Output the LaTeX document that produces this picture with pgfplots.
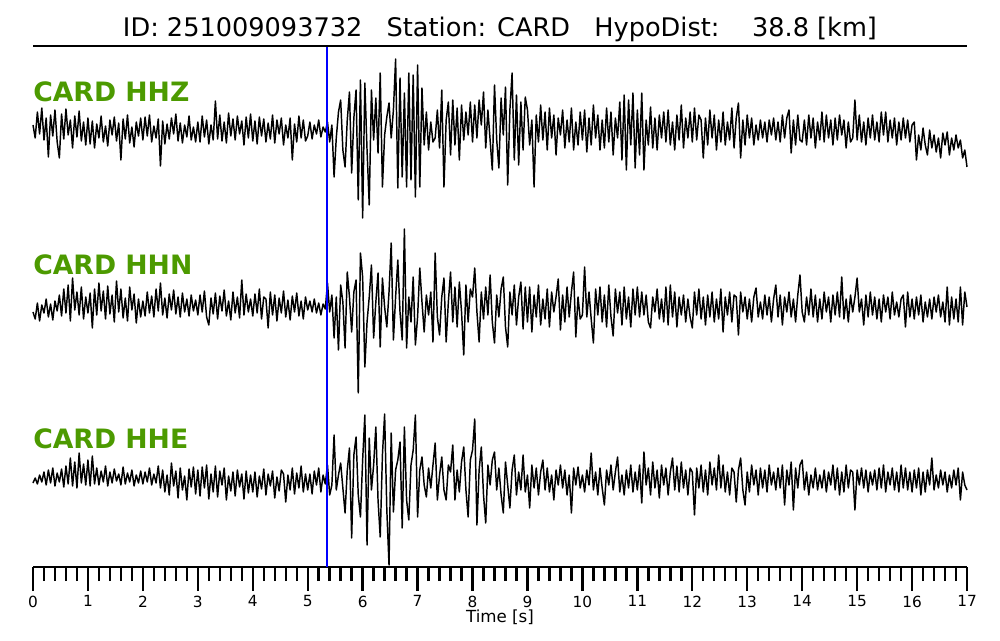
\documentclass[border=0pt]{standalone}
\usepackage{pgfplots}
\pgfplotsset{compat=1.18}
\usepackage{pgfplotstable}
\usepackage{fontspec}
\setmainfont{DejaVu Sans}
\definecolor{labgreen}{RGB}{76,154,0}

\pgfplotstableread{
t z n e
0.00 5 -5 -3
0.04 -8 -12 2
0.08 18 4 -4
0.12 -4 -14 5
0.16 22 2 -2
0.20 -10 -6 8
0.24 12 8 -5
0.28 -27 -10 10
0.32 15 3 -3
0.36 -6 -13 12
0.40 20 6 -6
0.44 -12 -4 7
0.48 -28 12 -2
0.52 16 -9 11
0.56 -9 18 -7
0.60 21 -6 14
0.64 -5 22 -4
0.68 10 -14 22
0.72 -18 29 -6
0.76 14 -3 18
0.80 -7 15 -8
0.84 19 -8 27
0.88 -11 20 -3
0.92 8 -12 16
0.96 -15 10 -5
1.00 12 -6 20
1.04 -14 14 -6
1.08 9 -21 24
1.12 -18 18 -4
1.16 6 -8 12
1.20 -8 24 -5
1.24 14 -4 9
1.28 -12 16 -2
1.32 4 -12 14
1.36 -16 21 -6
1.40 10 -7 8
1.44 -5 12 -3
1.48 13 -15 11
1.52 -11 26 -1
1.56 7 -5 6
1.60 -30 18 -5
1.64 11 -11 13
1.68 -9 9 -4
1.72 15 -14 7
1.76 -13 20 -2
1.80 3 -3 10
1.84 -17 13 -6
1.88 8 -16 5
1.92 -6 8 -3
1.96 12 -10 9
2.00 -10 6 -4
2.04 13 -9 8
2.08 -6 15 -2
2.12 15 -6 12
2.16 -12 11 -5
2.20 4 -10 6
2.24 -8 18 -3
2.28 11 -4 14
2.32 -36 24 -8
2.36 9 -8 10
2.40 -14 9 -12
2.44 6 -11 5
2.48 -9 13 -15
2.52 12 -3 17
2.56 -4 17 -6
2.60 16 -7 9
2.64 -11 10 -18
2.68 7 -10 12
2.72 -13 14 -10
2.76 5 -5 4
2.80 -7 8 -20
2.84 14 -9 11
2.88 -10 12 -7
2.92 3 -4 13
2.96 -12 7 -14
3.00 8 -8 10
3.04 -12 12 -16
3.08 14 -5 13
3.12 -7 16 -8
3.16 10 -10 15
3.20 -14 -18 -19
3.24 5 9 6
3.28 -10 -7 -12
3.32 29 14 14
3.36 -9 -12 -17
3.40 15 11 9
3.44 -11 -4 -5
3.48 8 17 12
3.52 -13 -9 -20
3.56 17 6 4
3.60 -6 -13 -11
3.64 11 15 8
3.68 -10 -6 -16
3.72 14 10 10
3.76 -4 -11 -7
3.80 9 27 6
3.84 -15 -8 -19
3.88 13 13 9
3.92 -8 -5 -13
3.96 16 8 5
4.00 -11 -9 -12
4.04 9 13 8
4.08 -14 -6 -17
4.12 13 18 4
4.16 -6 -12 -9
4.20 11 10 11
4.24 -12 8 -15
4.28 7 -21 6
4.32 -9 15 -6
4.36 15 -8 9
4.40 -13 12 -18
4.44 10 -14 3
4.48 -4 9 -11
4.52 12 -6 10
4.56 -15 16 6
4.60 5 -10 -22
4.64 -8 7 5
4.68 12 -13 -10
4.72 -30 11 12
4.76 6 -5 -14
4.80 -12 14 7
4.84 14 -9 -8
4.88 -8 6 14
4.92 10 -12 -12
4.96 -11 10 6
5.00 -6 -3 -10
5.04 8 6 6
5.08 -9 -5 -14
5.12 5 8 9
5.16 -4 -6 -5
5.20 10 4 12
5.24 -7 -8 -12
5.28 3 3 5
5.32 -2 -2 -4
5.36 8 24 15
5.40 -12 -5 -15
5.44 5 12 -5
5.48 -47 -31 45
5.52 -8 10 -10
5.56 18 -43 5
5.60 30 22 17
5.64 -20 5 -8
5.68 -37 -41 -33
5.72 10 35 10
5.76 38 10 32
5.80 -43 -25 -58
5.84 12 15 25
5.88 40 27 43
5.92 -70 -86 -15
5.96 50 54 -37
6.00 -88 30 20
6.04 47 -60 65
6.08 -20 -15 -65
6.12 -75 10 42
6.16 40 42 -10
6.20 -10 -31 15
6.24 32 5 53
6.28 -23 34 -20
6.32 57 -40 -57
6.36 -57 29 25
6.40 -5 0 66
6.44 13 -20 -30
6.48 27 15 -85
6.52 -8 64 47
6.56 20 -33 -32
6.60 71 10 10
6.64 -58 47 20
6.68 52 -5 38
6.72 -47 -33 -48
6.76 37 78 53
6.80 -57 -41 -20
6.84 57 10 -40
6.88 -50 -15 15
6.92 55 30 30
6.96 -67 -38 65
7.00 65 -10 -37
7.04 -57 39 10
7.08 42 5 23
7.12 -15 -25 -5
7.16 18 12 -17
7.20 -20 -8 12
7.24 8 15 -8
7.28 -12 -35 15
7.32 -8 54 37
7.36 20 -10 -20
7.40 -18 -28 5
7.44 40 10 23
7.48 -57 29 -10
7.52 10 -35 -20
7.56 28 5 15
7.60 -25 35 8
7.64 30 -15 35
7.68 -15 20 -20
7.72 22 -20 10
7.76 -30 25 -12
7.80 25 -5 18
7.84 -10 -48 33
7.88 18 22 -10
7.92 -5 -15 -37
7.96 28 18 20
8.00 -12 10 30
8.04 25 39 61
8.08 -8 -5 -45
8.12 30 -35 10
8.16 5 15 33
8.20 38 -12 -15
8.24 -18 20 -43
8.28 20 -8 15
8.32 -10 32 -5
8.36 -40 -15 20
8.40 45 -36 28
8.44 -10 12 -10
8.48 -38 -10 12
8.52 32 18 -15
8.56 -5 30 -33
8.60 43 -20 18
8.64 -55 -40 -5
8.68 20 15 -28
8.72 57 -8 10
8.76 -30 22 25
8.80 35 -18 -15
8.84 -35 10 8
8.88 28 25 -10
8.92 -20 -22 25
8.96 33 20 -12
9.00 20 -15 5
9.04 -15 20 -28
9.08 10 -25 15
9.12 -57 12 -8
9.16 15 -10 12
9.20 -12 22 -15
9.24 25 -18 8
9.28 -10 8 20
9.32 18 -12 -10
9.36 -20 18 12
9.40 22 -20 -12
9.44 -8 15 5
9.48 15 -5 -20
9.52 -25 10 10
9.56 12 28 -5
9.60 -5 -23 15
9.64 20 12 -8
9.68 -18 -15 10
9.72 10 20 -15
9.76 -12 -10 5
9.80 22 15 -33
9.84 -20 35 12
9.88 8 -30 -5
9.92 -15 10 13
9.96 18 -12 -8
10.00 -10 -8 5
10.04 20 40 -12
10.08 -22 -10 10
10.12 12 15 -5
10.16 -15 -12 27
10.20 25 -36 -10
10.24 -8 18 8
10.28 15 -8 -15
10.32 -20 20 12
10.36 10 -15 -8
10.40 -18 12 -25
10.44 22 -20 10
10.48 -12 22 -5
10.52 18 -10 15
10.56 -25 -29 -10
10.60 12 18 8
10.64 -8 -6 23
10.68 28 15 -12
10.72 -30 -18 5
10.76 35 20 -15
10.80 -40 -12 10
10.84 30 10 -8
10.88 -15 -20 15
10.92 37 18 -12
10.96 -38 -8 8
11.00 20 20 -10
11.04 -25 -10 15
11.08 37 15 -23
11.12 -40 -8 28
11.16 10 12 -5
11.20 -15 -15 12
11.24 23 -21 -15
11.28 -18 10 18
11.32 12 -5 -8
11.36 -20 18 10
11.40 15 -12 -18
11.44 -8 8 15
11.48 18 -15 -5
11.52 -12 20 12
11.56 20 -18 -15
11.60 -15 22 8
11.64 8 -10 22
11.68 -20 15 -10
11.72 15 -20 14
11.76 -10 10 -12
11.80 25 -8 18
11.84 -18 12 -8
11.88 12 -15 10
11.92 -8 8 -15
11.96 18 -10 12
12.00 -12 -21 8
12.04 22 15 -35
12.08 -10 -8 12
12.12 15 18 -8
12.16 10 -12 15
12.20 -28 10 -12
12.24 12 -18 10
12.28 -15 12 -15
12.32 20 -10 18
12.36 -8 15 -5
12.40 15 -15 12
12.44 -20 8 -10
12.48 10 -12 25
12.52 -12 18 -8
12.56 18 -25 15
12.60 -15 10 -12
12.64 8 -8 8
12.68 -10 15 -15
12.72 22 -15 12
12.76 -18 12 8
12.80 12 10 -22
12.84 27 -28 10
12.88 -28 15 22
12.92 10 -5 -10
12.96 -15 10 -25
13.00 15 -12 8
13.04 -8 8 -12
13.08 12 -15 15
13.12 -15 10 -5
13.16 5 19 10
13.20 -10 -10 -15
13.24 10 5 12
13.28 -8 -12 -8
13.32 8 12 10
13.36 -12 -8 -12
13.40 10 10 15
13.44 -5 -15 -5
13.48 12 8 8
13.52 -10 22 -10
13.56 8 -10 12
13.60 -12 12 -8
13.64 15 -18 15
13.68 -8 10 -25
13.72 12 -5 10
13.76 20 15 -5
13.80 -23 -10 18
13.84 10 8 -30
13.88 -15 -15 12
13.92 15 12 -8
13.96 -10 32 15
14.00 -12 -5 20
14.04 10 -15 -10
14.08 -15 10 8
14.12 15 -8 -15
14.16 -8 18 5
14.20 12 -10 -8
14.24 -18 12 12
14.28 8 -15 -10
14.32 -10 8 5
14.36 18 -12 -8
14.40 -12 15 10
14.44 15 -5 -12
14.48 -8 10 8
14.52 10 -15 -5
14.56 -15 12 15
14.60 12 -8 -10
14.64 -10 15 12
14.68 15 -10 -15
14.72 -5 30 8
14.76 10 -12 -12
14.80 -18 8 15
14.84 8 -15 -8
14.88 -12 12 10
14.92 -8 -5 8
14.96 30 10 -30
15.00 -10 29 10
15.04 15 -5 -5
15.08 -12 8 12
15.12 8 -18 -8
15.16 -15 12 10
15.20 12 -10 -12
15.24 -8 15 8
15.28 15 -8 -5
15.32 -10 10 10
15.36 8 -12 -10
15.40 -12 8 12
15.44 18 -15 -8
15.48 -5 12 15
15.52 18 -5 -12
15.56 -12 10 8
15.60 10 -12 -5
15.64 -8 15 12
15.68 12 -8 -10
15.72 -15 5 8
15.76 8 -10 -12
15.80 -10 8 15
15.84 12 12 -8
15.88 -8 -20 12
15.92 10 15 -10
15.96 -12 -10 8
16.00 5 8 -12
16.04 8 -12 10
16.08 -30 10 -8
16.12 -5 -8 12
16.16 -20 12 -15
16.20 2 -15 8
16.24 -15 5 -12
16.28 -25 -10 10
16.32 0 8 -5
16.36 -18 -12 22
16.40 -5 10 -10
16.44 -22 -5 5
16.48 -8 12 -8
16.52 -28 -10 10
16.56 -3 5 -5
16.60 -15 -15 8
16.64 -2 20 -12
16.68 -25 -18 5
16.72 -8 10 -8
16.76 -20 -12 10
16.80 -5 8 -5
16.84 -18 -15 12
16.88 -10 20 -20
16.92 -28 -18 8
16.96 -20 15 -5
17.00 -37 0 -10
}\wave

\begin{document}
\begin{tikzpicture}
\path[use as bounding box] (0,0) rectangle (750pt,480pt);
\begin{axis}[
  at={(24.75pt,54.75pt)}, anchor=south west,
  scale only axis, width=700.5pt, height=390.75pt,
  xmin=0, xmax=17, ymin=73, ymax=594,
  clip=false,
  axis x line*=bottom, axis y line=none,
  axis line style={black, line width=1pt},
  xtick distance=1, minor x tick num=4, ytick=\empty,
  tick align=outside,
  major tick length=18pt, minor tick length=10.5pt,
  tick style={black, line width=1.8pt},
  /pgf/number format/assume math mode=true,
  xticklabel style={font=\fontsize{11.5}{13}\selectfont},
]
\addplot[black, line width=1.1pt, line join=round, mark=none] table[x=t, y expr=\thisrow{z}+510] {\wave};
\addplot[black, line width=1.1pt, line join=round, mark=none] table[x=t, y expr=\thisrow{n}+333] {\wave};
\addplot[black, line width=1.1pt, line join=round, mark=none] table[x=t, y expr=\thisrow{e}+160] {\wave};
\addplot[blue, line width=1.1pt, mark=none] coordinates {(5.35,73) (5.35,594)};
\draw[black, line width=1.1pt] (axis cs:0,594) -- (axis cs:17,594);
\node[anchor=base, font=\fontsize{19.2}{22}\selectfont, inner sep=0pt] at (axis cs:8.5,603) {ID: 251009093732\hspace{0.95em}Station: CARD\hspace{0.95em}HypoDist:\hspace{1.27em}38.8 [km]};
\node[anchor=base west, inner sep=0pt, font=\fontsize{20}{24}\selectfont\bfseries, text=labgreen] at (axis cs:0,538) {CARD HHZ};
\node[anchor=base west, inner sep=0pt, font=\fontsize{20}{24}\selectfont\bfseries, text=labgreen] at (axis cs:0,365) {CARD HHN};
\node[anchor=base west, inner sep=0pt, font=\fontsize{20}{24}\selectfont\bfseries, text=labgreen] at (axis cs:0,192) {CARD HHE};
\node[font=\fontsize{12.5}{14}\selectfont, inner sep=0pt] at (axis cs:8.5,73) [yshift=-37.5pt] {Time [s]};
\end{axis}
\end{tikzpicture}
\end{document}
